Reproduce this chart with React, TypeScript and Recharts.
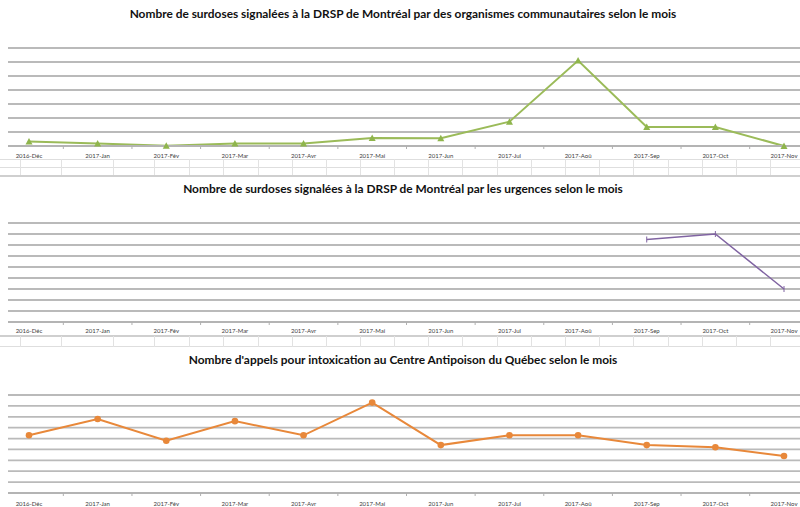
import React from 'react';
import { LineChart, Line, XAxis, YAxis, CartesianGrid } from 'recharts';

const months = ['2016-Déc', '2017-Jan', '2017-Fév', '2017-Mar', '2017-Avr', '2017-Mai', '2017-Jun', '2017-Jul', '2017-Aoû', '2017-Sep', '2017-Oct', '2017-Nov'];
const communautaires = [1.6, 0.9, 0.1, 0.9, 0.9, 2.9, 2.8, 8.7, 30.5, 6.8, 6.8, 0];
const urgences: (number | null)[] = [null, null, null, null, null, null, null, null, null, 75, 80, 30];
const antipoison = [53, 68, 48, 66, 53, 83, 44, 53, 53, 44, 42, 34];

const ticks1 = [0, 5, 10, 15, 20, 25, 30, 35];
const ticks23 = [0, 10, 20, 30, 40, 50, 60, 70, 80, 90];

const titles = [
  'Nombre de surdoses signalées à la DRSP de Montréal par des organismes communautaires selon le mois',
  'Nombre de surdoses signalées à la DRSP de Montréal par les urgences selon le mois',
  "Nombre d'appels pour intoxication au Centre Antipoison du Québec selon le mois",
];

const data1 = months.map((m, i) => ({ m, v: communautaires[i] }));
const data2 = months.map((m, i) => ({ m, v: urgences[i] }));
const data3 = months.map((m, i) => ({ m, v: antipoison[i] }));

const HALF = (784 - 29) / 11 / 2;
const FONT = 'Lato, "Open Sans", sans-serif';
const GRID = '#bababa';

const makeTick = (dy: number) => (props: any) => {
  const { x, y, payload, index } = props;
  return (
    <g>
      <text x={x} y={y + dy} textAnchor="middle" dominantBaseline="central" fontSize={6} fill="#404040" fontFamily={FONT}>
        {payload.value}
      </text>
      {index < months.length - 1 && (
        <line x1={x + HALF} x2={x + HALF} y1={y} y2={y + 3} stroke="#b0b0b0" strokeWidth={1} />
      )}
    </g>
  );
};

const Triangle = (props: any) => {
  const { cx, cy } = props;
  if (cx == null || cy == null) return null;
  return <polygon points={`${cx - 3.5},${cy + 3} ${cx + 3.5},${cy + 3} ${cx},${cy - 3.5}`} fill="#8fb54c" />;
};

const Plus = (props: any) => {
  const { cx, cy, value } = props;
  if (cx == null || cy == null || value == null) return null;
  return (
    <g stroke="#8064a2" strokeWidth={1}>
      <line x1={cx} x2={cx} y1={cy - 3} y2={cy + 3} />
    </g>
  );
};

const Circle = (props: any) => {
  const { cx, cy } = props;
  if (cx == null || cy == null) return null;
  return <circle cx={cx} cy={cy} r={3.3} fill="#e8883a" />;
};

const cols = [20, 61, 113, 154, 189, 223, 258, 292, 326, 360, 394, 428, 462, 497, 531, 565, 599, 633, 668, 702, 736, 770];

const Title = ({ text, cy }: { text: string; cy: number }) => (
  <div
    style={{
      position: 'absolute',
      left: 3,
      width: 800,
      top: cy - 8,
      height: 16,
      lineHeight: '16px',
      textAlign: 'center',
      fontFamily: FONT,
      fontWeight: 700,
      fontSize: 11.9,
      color: '#111111',
      whiteSpace: 'nowrap',
    }}
  >
    {text}
  </div>
);

const Panel = ({ data, top, height, ticks, domain, color, dot, dy, width }: any) => (
  <div style={{ position: 'absolute', left: 0, top }}>
    <LineChart width={800} height={height} data={data} margin={{ top: 48, right: 0, bottom: 0, left: 8 }}>
      <CartesianGrid horizontal vertical={false} stroke={GRID} strokeWidth={1.8} horizontalValues={ticks} />
      <XAxis
        dataKey="m"
        height={14}
        padding={{ left: 21, right: 16 }}
        tickSize={0}
        tickMargin={0}
        tickLine={false}
        axisLine={{ stroke: '#b4b4b4', strokeWidth: 1.8 }}
        tick={makeTick(dy)}
        interval={0}
      />
      <YAxis hide domain={domain} ticks={ticks} interval={0} />
      <Line
        type="linear"
        dataKey="v"
        stroke={color}
        strokeWidth={width}
        dot={dot}
        activeDot={false}
        connectNulls={false}
        isAnimationActive={false}
      />
    </LineChart>
  </div>
);

export default function App() {
  return (
    <div style={{ position: 'absolute', left: 0, top: 0, width: 800, height: 507, background: '#ffffff', overflow: 'hidden' }}>
      {[159, 167].map((y) => (
        <div key={'a' + y} style={{ position: 'absolute', left: 0, top: y, width: 800, height: 1, background: '#dedede' }} />
      ))}
      <div style={{ position: 'absolute', left: 0, top: 175, width: 800, height: 2, background: '#cfcfcf' }} />
      <div style={{ position: 'absolute', left: 0, top: 335, width: 800, height: 2, background: '#cfcfcf' }} />
      <div style={{ position: 'absolute', left: 0, top: 346, width: 800, height: 1, background: '#dedede' }} />
      {cols.map((x) => (
        <React.Fragment key={'c' + x}>
          <div style={{ position: 'absolute', left: x, top: 159, width: 1, height: 16, background: '#e2e2e2' }} />
          <div style={{ position: 'absolute', left: x, top: 336, width: 1, height: 11, background: '#e2e2e2' }} />
        </React.Fragment>
      ))}

      <Title text={titles[0]} cy={14} />
      <Title text={titles[1]} cy={189} />
      <Title text={titles[2]} cy={360} />

      <Panel data={data1} top={0} height={160} ticks={ticks1} domain={[0, 35]} color="#9bbb59" dot={<Triangle />} dy={9} width={2} />
      <Panel data={data2} top={175} height={161} ticks={ticks23} domain={[0, 90]} color="#8064a2" dot={<Plus />} dy={8} width={1.5} />
      <Panel data={data3} top={347} height={160} ticks={ticks23} domain={[0, 90]} color="#e8883a" dot={<Circle />} dy={10} width={2} />
    </div>
  );
}
